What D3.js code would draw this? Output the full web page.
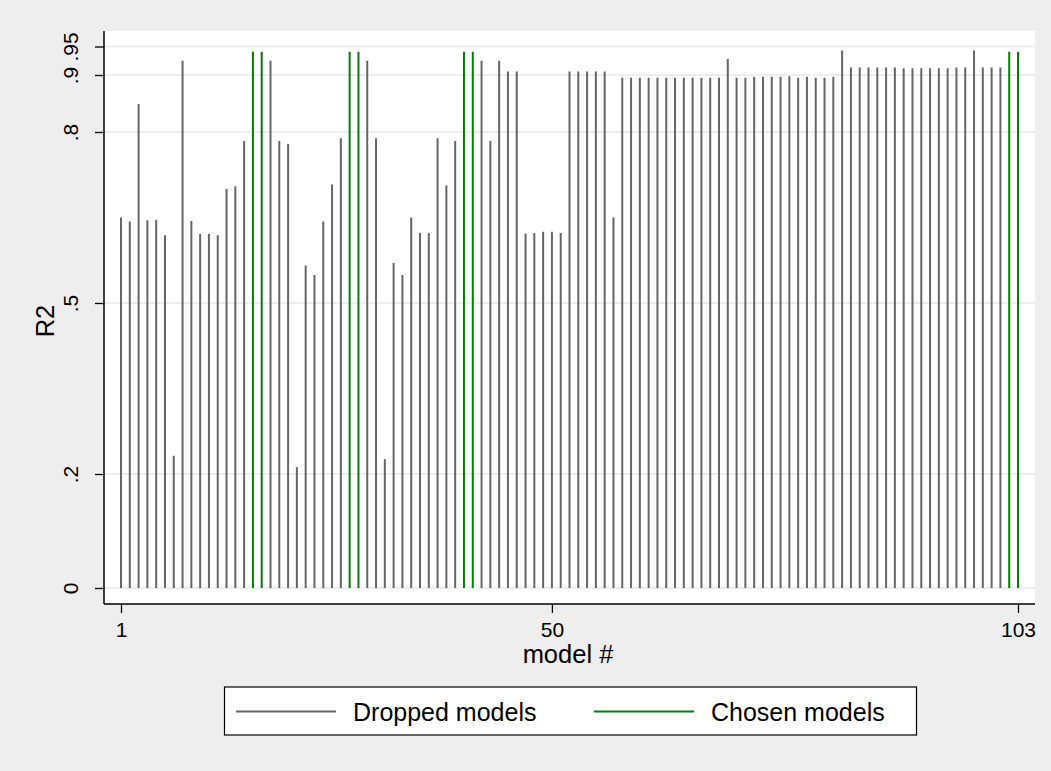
<!DOCTYPE html>
<html lang="en">
<head>
  <meta charset="UTF-8" />
  <title>R2 by model</title>
  <script src="https://d3js.org/d3.v7.min.js"></script>
  <style>
    body { margin: 0; background: #eeeeee; }
    svg { display: block; font-family: "Liberation Sans", Arial, sans-serif; }
    .tick text { fill: #000; }
  </style>
</head>
<body>
  <svg id="chart"></svg>

  <script>
    // model index 1..103 and its R2
    const models = d3.range(1, 104);
    const r2 = [
      0.650, 0.643, 0.849, 0.645, 0.646, 0.619, 0.232, 0.925, 0.644, 0.621,
      0.621, 0.619, 0.700, 0.705, 0.784, 0.941, 0.941, 0.925, 0.784, 0.779,
      0.212, 0.566, 0.549, 0.643, 0.708, 0.789, 0.941, 0.941, 0.925, 0.789,
      0.226, 0.570, 0.549, 0.650, 0.623, 0.623, 0.789, 0.706, 0.784, 0.941,
      0.941, 0.925, 0.784, 0.925, 0.906, 0.906, 0.622, 0.623, 0.625, 0.625,
      0.623, 0.906, 0.906, 0.906, 0.906, 0.906, 0.650, 0.895, 0.895, 0.895,
      0.895, 0.895, 0.895, 0.895, 0.895, 0.895, 0.895, 0.895, 0.895, 0.928,
      0.895, 0.895, 0.897, 0.897, 0.897, 0.897, 0.898, 0.895, 0.897, 0.895,
      0.895, 0.897, 0.943, 0.913, 0.913, 0.913, 0.913, 0.913, 0.913, 0.912,
      0.912, 0.912, 0.912, 0.912, 0.912, 0.913, 0.913, 0.943, 0.913, 0.913,
      0.913, 0.941, 0.941
    ];
    const chosen = [16, 17, 27, 28, 40, 41, 102, 103];

    const xTicks = [1, 50, 103];
    const yTicks = [0, 0.2, 0.5, 0.8, 0.9, 0.95];
    const legendLabels = ["Dropped models", "Chosen models"];
    const xTitle = "model #";
    const yTitle = "R2";

    const W = 1051, H = 771;
    const plot = { left: 104, right: 1035, top: 31, bottom: 604 };
    const colDropped = "#666666";
    const colChosen = "#008000";
    const font = '"Liberation Sans", Arial, sans-serif';

    const svg = d3.select("#chart").attr("width", W).attr("height", H);

    svg.append("rect").attr("width", W).attr("height", H).attr("fill", "#eeeeee");
    svg.append("rect")
      .attr("x", plot.left).attr("y", plot.top)
      .attr("width", plot.right - plot.left)
      .attr("height", plot.bottom - plot.top)
      .attr("fill", "#ffffff");

    const x = d3.scaleLinear().domain([1, 103]).range([121, 1018]);
    const y = d3.scaleLinear().domain([0, 1]).range([588, 18]);

    // gridlines
    svg.append("g").selectAll("line")
      .data(yTicks)
      .enter().append("line")
        .attr("x1", plot.left).attr("x2", plot.right)
        .attr("y1", d => y(d)).attr("y2", d => y(d))
        .attr("stroke", "#e8e8e8")
        .attr("stroke-width", 1.6);

    // spikes
    const data = models.map((m, i) => ({ m: m, v: r2[i], chosen: chosen.includes(m) }));
    svg.append("g").selectAll("line")
      .data(data)
      .enter().append("line")
        .attr("x1", d => x(d.m)).attr("x2", d => x(d.m))
        .attr("y1", y(0)).attr("y2", d => y(d.v))
        .attr("stroke", d => d.chosen ? colChosen : colDropped)
        .attr("stroke-width", 2);

    // axes
    const fmt = d => d === 0 ? "0" : String(d).replace(/^0/, "");

    const yAxis = svg.append("g")
      .attr("transform", `translate(${plot.left},0)`)
      .call(d3.axisLeft(y).tickValues(yTicks).tickFormat(fmt).tickSize(9).tickSizeOuter(0))
      .attr("font-family", font);
    yAxis.select(".domain").remove();
    yAxis.selectAll(".tick line").attr("stroke", "#000").attr("stroke-width", 1.3);
    yAxis.selectAll(".tick text")
      .attr("font-size", 21)
      .attr("x", 0).attr("y", 0).attr("dy", null)
      .attr("text-anchor", "middle")
      .attr("transform", "translate(-26,0) rotate(-90)");

    const xAxis = svg.append("g")
      .attr("transform", `translate(0,${plot.bottom})`)
      .call(d3.axisBottom(x).tickValues(xTicks).tickSize(9).tickSizeOuter(0))
      .attr("font-family", font);
    xAxis.select(".domain").remove();
    xAxis.selectAll(".tick line").attr("stroke", "#000").attr("stroke-width", 1.3);
    xAxis.selectAll(".tick text")
      .attr("font-size", 21)
      .attr("y", 33).attr("dy", null);

    svg.append("line")
      .attr("x1", plot.left).attr("x2", plot.left)
      .attr("y1", plot.top).attr("y2", plot.bottom)
      .attr("stroke", "#000").attr("stroke-width", 1.5);
    svg.append("line")
      .attr("x1", plot.left).attr("x2", plot.right)
      .attr("y1", plot.bottom).attr("y2", plot.bottom)
      .attr("stroke", "#000").attr("stroke-width", 1.5);

    svg.append("text")
      .attr("x", 568)
      .attr("y", 663)
      .attr("text-anchor", "middle")
      .attr("font-size", 25.5)
      .text(xTitle);

    svg.append("text")
      .attr("transform", `translate(54,${y(0.5) + 18}) rotate(-90)`)
      .attr("text-anchor", "middle")
      .attr("font-size", 25.5)
      .text(yTitle);

    // legend
    const legend = svg.append("g");
    legend.append("rect")
      .attr("x", 224.5).attr("y", 687)
      .attr("width", 692).attr("height", 48)
      .attr("fill", "#ffffff")
      .attr("stroke", "#000").attr("stroke-width", 1.2);

    const legendItems = [
      { label: legendLabels[0], color: colDropped, x0: 236 },
      { label: legendLabels[1], color: colChosen, x0: 594 }
    ];
    legendItems.forEach(it => {
      legend.append("line")
        .attr("x1", it.x0).attr("x2", it.x0 + 100)
        .attr("y1", 711.5).attr("y2", 711.5)
        .attr("stroke", it.color).attr("stroke-width", 2);
      legend.append("text")
        .attr("x", it.x0 + 117).attr("y", 721)
        .attr("font-size", 25)
        .text(it.label);
    });
  </script>
</body>
</html>
